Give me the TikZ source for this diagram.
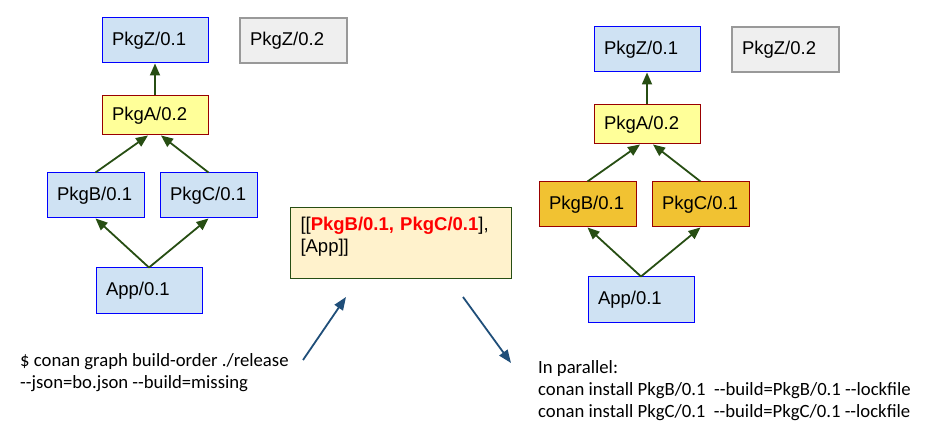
\documentclass[tikz,border=0pt]{standalone}
\usepackage{fontspec}
\newfontfamily\boxfont{Liberation Sans}
\newfontfamily\notefont{Carlito}
\usetikzlibrary{arrows.meta}
\definecolor{pkgblue}{HTML}{CFE2F3}
\definecolor{edgeblue}{HTML}{0000FF}
\definecolor{oldgray}{HTML}{EFEFEF}
\definecolor{graydraw}{HTML}{999999}
\definecolor{newyellow}{HTML}{FFFF99}
\definecolor{darkred}{HTML}{990000}
\definecolor{buildorange}{HTML}{F1C232}
\definecolor{orderfill}{HTML}{FFF2CC}
\definecolor{depgreen}{HTML}{274E13}
\definecolor{stepblue}{HTML}{1F4E79}
\tikzset{
  pkg/.style={draw=edgeblue, fill=pkgblue, line width=1pt, inner xsep=10pt, inner ysep=0pt,
    align=left, text width=86pt, minimum height=45pt, font=\boxfont\fontsize{18.5}{22}\selectfont},
  narrow/.style={text width=77pt},
  unused/.style={draw=graydraw, fill=oldgray, line width=2pt, text width=87pt},
  changed/.style={draw=darkred, fill=newyellow, minimum height=39pt},
  order/.style={draw=depgreen, fill=orderfill, line width=1pt, inner sep=10pt, align=left,
    text width=201pt, text height=13pt, text depth=38pt, anchor=north west,
    font=\boxfont\fontsize{18.5}{22}\selectfont},
  dep/.style={draw=depgreen, line width=1.8pt, -{Triangle[length=12pt,width=10pt]}},
  flow/.style={draw=stepblue, line width=1.8pt, -{Triangle[length=13pt,width=10pt]}},
  note/.style={font=\notefont\fontsize{18.7}{22}\selectfont, align=left, inner sep=0pt, anchor=base west}
}
\begin{document}
\begin{tikzpicture}[x=1pt,y=-1pt]
\useasboundingbox (0,0) rectangle (936,443);
% the graph before (left) and after (right) building B and C
\foreach \g/\dx/\dy/\bdraw/\bfill in {l/0/0/edgeblue/pkgblue, r/492/9/darkred/buildorange}{
  \begin{scope}[shift={(\dx,\dy)}]
    \node[pkg] (\g-z1) at (155,40.5) {PkgZ/0.1};
    \node[pkg,unused] (\g-z2) at (293.5,40.5) {PkgZ/0.2};
    \node[pkg,changed] (\g-a) at (155,115.5) {PkgA/0.2};
    \node[pkg,narrow,draw=\bdraw,fill=\bfill] (\g-b) at (95.5,195.5) {PkgB/0.1};
    \node[pkg,narrow,draw=\bdraw,fill=\bfill] (\g-c) at (208.5,195.5) {PkgC/0.1};
    \node[pkg] (\g-app) at (149,290.5) {App/0.1};
    \draw[dep] (\g-a.north) -- (\g-z1.south);
    \draw[dep] (\g-b.north) -- ([xshift=-7pt]\g-a.south);
    \draw[dep] (\g-c.north) -- ([xshift=6pt]\g-a.south);
    \draw[dep] (\g-app.north) -- (\g-b.south);
    \draw[dep] (\g-app.north) -- (\g-c.south);
  \end{scope}
}
% build order
\node[order] (bo) at (290,207) {[[{\color{red}\bfseries PkgB/0.1, PkgC/0.1}],\\\relax[App]]};
\node[note] (cmd) at (20,388) {\$ conan graph build-order ./release\\-{}-json=bo.json -{}-build=missing};
\node[note] (par) at (538,417) {In parallel:\\conan install PkgB/0.1\ \ -{}-build=PkgB/0.1 -{}-lockfile\\conan install PkgC/0.1\ \ -{}-build=PkgC/0.1 -{}-lockfile};
\coordinate (cmd-out) at (303,360);
\coordinate (bo-in) at (346,297);
\coordinate (bo-out) at (463,297);
\coordinate (par-in) at (511,363);
\draw[flow] (cmd-out) -- (bo-in);
\draw[flow] (bo-out) -- (par-in);
\end{tikzpicture}
\end{document}
